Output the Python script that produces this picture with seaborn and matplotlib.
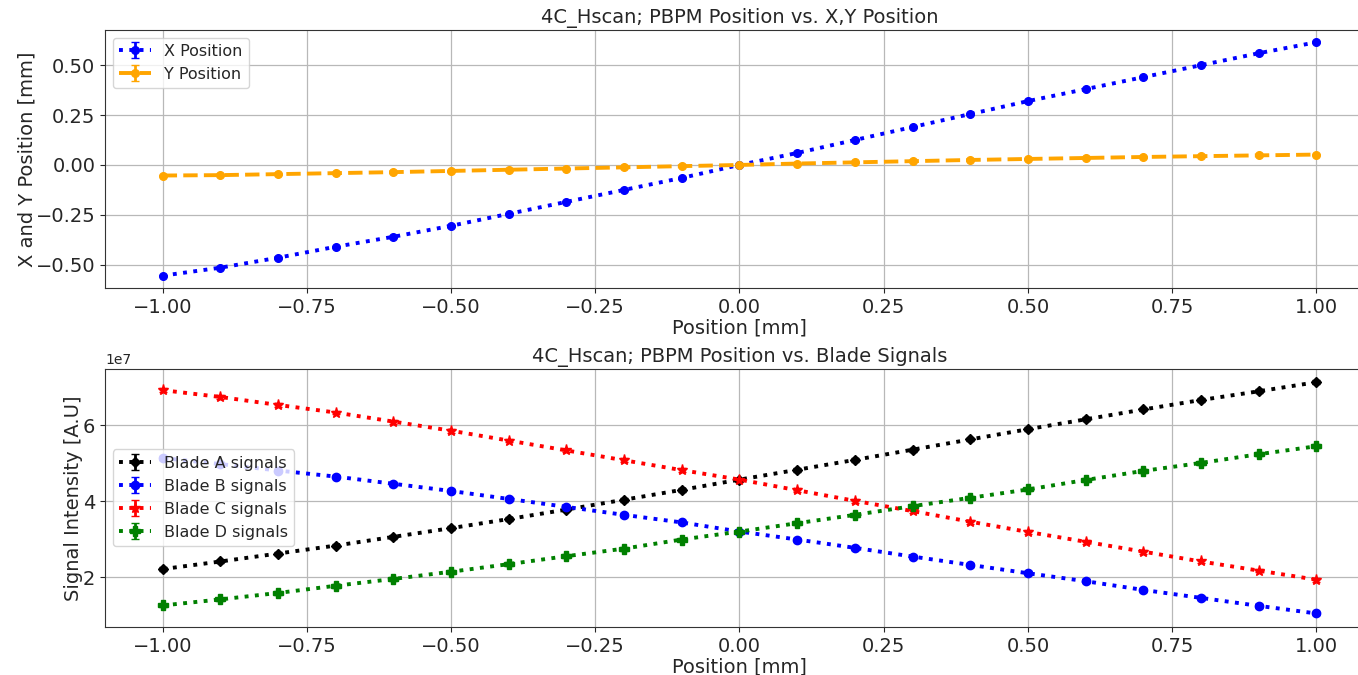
import matplotlib
matplotlib.use("Agg")
import matplotlib.pyplot as plt
import seaborn as sns
import numpy as np

# Scan positions [mm]
position = [-1.0, -0.9, -0.8, -0.7, -0.6, -0.5, -0.4, -0.3, -0.2, -0.1, 0.0,
            0.1, 0.2, 0.3, 0.4, 0.5, 0.6, 0.7, 0.8, 0.9, 1.0]

# PBPM reconstructed beam position [mm]
x_pos = [-0.555, -0.515, -0.465, -0.41, -0.36, -0.305, -0.245, -0.185, -0.125, -0.065, 0.0,
         0.06, 0.125, 0.19, 0.255, 0.32, 0.38, 0.44, 0.50, 0.56, 0.615]
y_pos = [-0.053, -0.051, -0.046, -0.041, -0.036, -0.030, -0.024, -0.018, -0.012, -0.006, 0.0,
         0.007, 0.013, 0.019, 0.025, 0.030, 0.035, 0.040, 0.044, 0.048, 0.052]
x_err = [0.004] * len(position)
y_err = [0.004] * len(position)

# Blade signals [1e7 A.U]
blade_a = [2.21, 2.41, 2.62, 2.83, 3.06, 3.29, 3.53, 3.78, 4.04, 4.30, 4.57,
           4.83, 5.09, 5.36, 5.63, 5.90, 6.16, 6.42, 6.67, 6.90, 7.14]
blade_b = [5.14, 4.98, 4.81, 4.65, 4.46, 4.27, 4.06, 3.85, 3.64, 3.44, 3.20,
           2.99, 2.77, 2.54, 2.32, 2.10, 1.89, 1.66, 1.45, 1.24, 1.04]
blade_c = [6.93, 6.75, 6.54, 6.34, 6.10, 5.86, 5.60, 5.34, 5.08, 4.82, 4.57,
           4.29, 4.01, 3.74, 3.46, 3.19, 2.93, 2.67, 2.41, 2.17, 1.93]
blade_d = [1.25, 1.41, 1.58, 1.77, 1.95, 2.14, 2.34, 2.55, 2.75, 2.99, 3.20,
           3.42, 3.64, 3.87, 4.09, 4.31, 4.56, 4.80, 5.01, 5.24, 5.45]
blade_err = [0.05] * len(position)

sns.set_style("ticks")
plt.rcParams["font.family"] = ["DejaVu Sans"]
plt.rcParams["font.size"] = 14

fig = plt.figure(figsize=(13.58, 6.75), dpi=100)
# the axes run slightly past the right edge of the canvas
ax1 = fig.add_axes([0.0773, 0.573, 0.9345, 0.383])
ax2 = fig.add_axes([0.0773, 0.071, 0.9345, 0.383])

pos = np.array(position)

# Upper panel: beam position
ax1.errorbar(pos, x_pos, yerr=x_err, fmt="o:", color="blue", lw=2.8, ms=5.5,
             capsize=3, elinewidth=2, label="X Position")
ax1.errorbar(pos, y_pos, yerr=y_err, fmt="o--", color="orange", lw=2.8, ms=5.5,
             capsize=3, elinewidth=2, label="Y Position")
ax1.set_title("4C_Hscan; PBPM Position vs. X,Y Position", fontsize=14, pad=5)
ax1.set_xlabel("Position [mm]", fontsize=14, labelpad=1)
ax1.set_ylabel("X and Y Position [mm]", fontsize=14, labelpad=-1)
ax1.set_xticks(np.arange(-1.0, 1.01, 0.25))
ax1.set_yticks([-0.5, -0.25, 0.0, 0.25, 0.5])
ax1.grid(True, color="#b8b8b8", lw=0.9)
ax1.legend(loc="upper left", fontsize=11.5)

# Lower panel: blade signals
scale = 1e7
series = [
    (blade_a, "black", "D", 5, "Blade A signals"),
    (blade_b, "blue", "o", 6, "Blade B signals"),
    (blade_c, "red", "*", 8, "Blade C signals"),
    (blade_d, "green", "P", 6.5, "Blade D signals"),
]
for vals, col, mk, size, lab in series:
    ax2.errorbar(pos, np.array(vals) * scale, yerr=np.array(blade_err) * scale,
                 fmt=mk + ":", color=col, lw=2.8, ms=size, capsize=3,
                 elinewidth=2, label=lab)
ax2.set_title("4C_Hscan; PBPM Position vs. Blade Signals", fontsize=14, pad=5)
ax2.set_xlabel("Position [mm]", fontsize=14, labelpad=1)
ax2.set_ylabel("Signal Intensity [A.U]", fontsize=14, labelpad=0)
ax2.set_xticks(np.arange(-1.0, 1.01, 0.25))
ax2.set_yticks([2e7, 4e7, 6e7])
ax2.grid(True, color="#b8b8b8", lw=0.9)
ax2.legend(loc="center left", fontsize=11.5)
ax2.yaxis.get_offset_text().set_fontsize(10)

for ax in (ax1, ax2):
    ax.tick_params(labelsize=14)
    for s in ax.spines.values():
        s.set_visible(True)
        s.set_color("#333333")

fig.savefig("out.png", dpi=100)
